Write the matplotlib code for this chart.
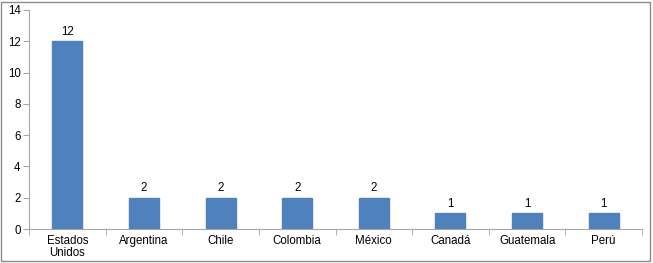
import matplotlib
matplotlib.use("Agg")
import matplotlib.pyplot as plt
from matplotlib.patches import Rectangle
import numpy as np

categories = ["Estados\nUnidos", "Argentina", "Chile", "Colombia", "México", "Canadá", "Guatemala", "Perú"]
values = [12, 2, 2, 2, 2, 1, 1, 1]

plt.rcParams['font.family'] = ['Liberation Sans', 'DejaVu Sans']
fig = plt.figure(figsize=(6.53, 2.63), dpi=100)
ax = fig.add_axes([29/653, 1 - 229/263, (642-29)/653, (229-10)/263])

FS = 8.3
x = np.arange(len(categories))
bars = ax.bar(x, values, width=0.39, color="#4F81BD", edgecolor="#4F81BD", zorder=3)
for xi, v in zip(x, values):
    ax.text(xi, v + 0.22, str(v), ha="center", va="bottom", fontsize=FS, color="black")

ax.set_xlim(-0.5, len(categories) - 0.5)
ax.set_ylim(0, 14)
ax.set_yticks(range(0, 15, 2))
ax.set_xticks(x)
ax.set_xticklabels(categories, fontsize=FS, linespacing=1.0)
ax.set_xticks(np.arange(-0.5, len(categories), 1), minor=True)
ax.tick_params(axis="x", which="major", length=0, pad=4)
ax.tick_params(axis="x", which="minor", length=4, color="#A6A6A6", direction="out")
ax.tick_params(axis="y", length=4, color="#A6A6A6", labelsize=FS, pad=2)
for s in ["top", "right"]:
    ax.spines[s].set_visible(False)
for s in ["left", "bottom"]:
    ax.spines[s].set_color("#A6A6A6")
    ax.spines[s].set_linewidth(0.8)

fig.patches.append(Rectangle((1/653, 2/263), 649/653, 259/263, transform=fig.transFigure,
                             fill=False, edgecolor="#8C8C8C", linewidth=1.0))
fig.savefig("out.png", dpi=100)
